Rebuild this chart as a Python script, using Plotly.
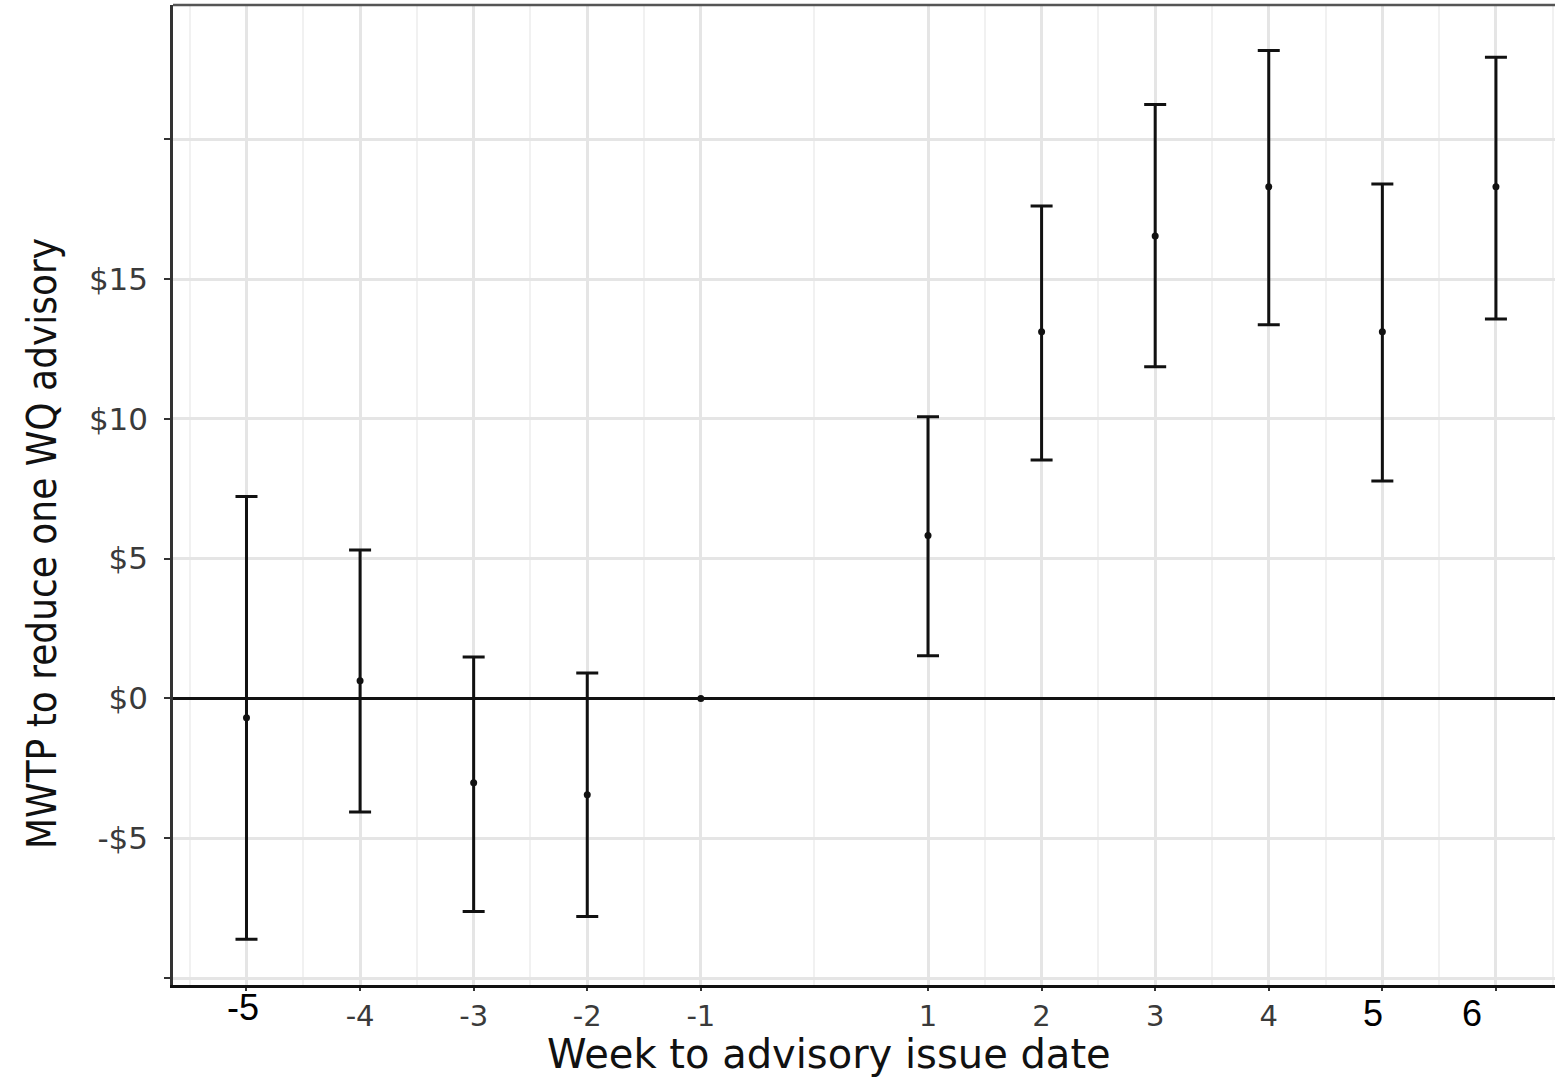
import plotly.graph_objects as go

# ---- data ----
weeks = [-5, -4, -3, -2, -1, 1, 2, 3, 4, 5, 6]
estimate = [-0.69, 0.63, -3.02, -3.45, 0.0, 5.83, 13.11, 16.54, 18.30, 13.11, 18.30]
upper = [7.22, 5.31, 1.48, 0.91, 0.0, 10.07, 17.61, 21.24, 23.17, 18.40, 22.93]
lower = [-8.61, -4.06, -7.62, -7.80, 0.0, 1.53, 8.53, 11.86, 13.36, 7.78, 13.57]

x_tickvals = [-5, -4, -3, -2, -1, 1, 2, 3, 4, 5, 6]
x_ticktext = ["-5", "-4", "-3", "-2", "-1", "1", "2", "3", "4", "5", "6"]
x_minor = [-5.5, -4.5, -3.5, -2.5, -1.5, 0, 1.5, 2.5, 3.5, 4.5, 5.5, 6.5]

y_tickvals = [-10, -5, 0, 5, 10, 15, 20]
y_ticktext = ["", "-$5", "$0", "$5", "$10", "$15", ""]

x_title = "Week to advisory issue date"
y_title = "MWTP to reduce one WQ advisory"

# labels that were pasted in a larger font in the original figure: (xshift, yshift)
pasted_style = {-5: (-3, 0), 5: (-9, -6), 6: (-24, -6)}

err_plus = [u - e for u, e in zip(upper, estimate)]
err_minus = [e - l for e, l in zip(estimate, lower)]

fig = go.Figure()
fig.add_trace(go.Scatter(
    x=weeks, y=estimate, mode="markers",
    marker=dict(color="#111111", size=7),
    error_y=dict(type="data", symmetric=False, array=err_plus, arrayminus=err_minus,
                 color="#111111", thickness=3, width=11),
    showlegend=False, hoverinfo="skip",
))

tick_font = dict(family="DejaVu Sans, Liberation Sans, Arial", size=29, color="#3a3a3a")
shown_text = [("" if v in pasted_style else t) for v, t in zip(x_tickvals, x_ticktext)]

fig.update_xaxes(
    range=[-5.647, 6.52],
    tickmode="array", tickvals=x_tickvals, ticktext=shown_text,
    ticks="outside", ticklen=3, tickwidth=2, tickcolor="#333333",
    tickfont=tick_font,
    showgrid=True, gridcolor="#e5e5e5", gridwidth=2.5,
    minor=dict(tickmode="array", tickvals=x_minor, showgrid=True,
               gridcolor="#f1f1f1", gridwidth=2, ticks=""),
    zeroline=False,
    showline=True, linecolor="#111111", linewidth=2.5,
)
fig.update_yaxes(
    range=[-10.25, 24.8],
    tickmode="array", tickvals=y_tickvals, ticktext=y_ticktext,
    ticks="outside", ticklen=6, tickwidth=2, tickcolor="#333333",
    tickfont=dict(family="DejaVu Sans, Liberation Sans, Arial", size=31, color="#3a3a3a"),
    ticklabelstandoff=10,
    showgrid=True, gridcolor="#e5e5e5", gridwidth=2.5,
    zeroline=True, zerolinecolor="#111111", zerolinewidth=2.5,
    showline=True, linecolor="#333333", linewidth=2.5,
)

annotations = []
for v, (xs, ys) in pasted_style.items():
    annotations.append(dict(
        x=v, xref="x", y=0, yref="paper", yanchor="top", yshift=ys, xshift=xs,
        text=x_ticktext[x_tickvals.index(v)], showarrow=False,
        font=dict(family="Liberation Sans, Arial", size=36, color="#000000"),
    ))
# axis titles, placed as in the original figure
annotations.append(dict(
    x=0.475, xref="paper", y=-0.0959, yref="paper", yanchor="bottom", xanchor="center",
    text=x_title, showarrow=False,
    font=dict(family="DejaVu Sans, Liberation Sans, Arial", size=40, color="#111111"),
))
annotations.append(dict(
    x=-0.0948, xref="paper", y=0.451, yref="paper", xanchor="center", yanchor="middle",
    text=y_title, textangle=-90, showarrow=False,
    font=dict(family="Liberation Sans Narrow, DejaVu Sans Condensed, Arial Narrow, Liberation Sans",
              size=40, color="#111111"),
))

fig.update_layout(
    width=1555, height=1079,
    margin=dict(l=173, r=0, t=5, b=94),
    plot_bgcolor="white", paper_bgcolor="white",
    annotations=annotations,
    shapes=[dict(type="line", xref="paper", yref="paper", x0=0, x1=1, y0=1, y1=1,
                 line=dict(color="#555555", width=2.5))],
)

fig.write_html("out.html")
